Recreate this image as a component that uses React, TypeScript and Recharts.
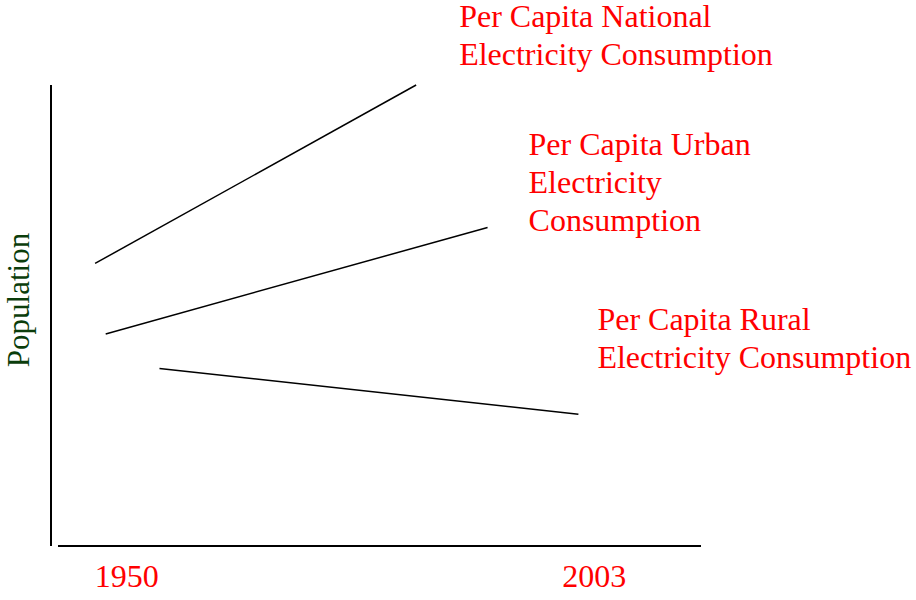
import React from "react";
import { LineChart, Line, XAxis, YAxis } from "recharts";

// schematic trend lines: [start, end] in years / relative level
const nationalYears = [1946.4, 1982.8];
const nationalLevels = [61.3, 100];
const urbanYears = [1947.6, 1990.9];
const urbanLevels = [46.0, 69.1];
const ruralYears = [1953.7, 2001.2];
const ruralLevels = [38.5, 28.6];

const yearTicks = [1950, 2003];

const nationalLabel = ["Per Capita National", "Electricity Consumption"];
const urbanLabel = ["Per Capita Urban", "Electricity", "Consumption"];
const ruralLabel = ["Per Capita Rural", "Electricity Consumption"];

const RED = "#ff0000";
const FONT = "'Liberation Serif', 'Times New Roman', serif";

const toData = (years: number[], levels: number[]) =>
  years.map((year, i) => ({ year, level: levels[i] }));

// label drawn next to the end point of each line
const endLabel = (lines: string[], dx: number, dy: number, lastIndex: number) =>
  (props: any) => {
    if (props.index !== lastIndex) return null;
    const x = props.x + dx;
    const y = props.y + dy;
    return (
      <text x={x} y={y} fill={RED} fontSize={32} fontFamily={FONT}>
        {lines.map((l, i) => (
          <tspan key={i} x={x} dy={i === 0 ? 0 : 38}>
            {l}
          </tspan>
        ))}
      </text>
    );
  };

const PopulationLabel = (props: any) => {
  const x = 29;
  const y = 300;
  return (
    <text
      x={x}
      y={y}
      transform={`rotate(-90, ${x}, ${y})`}
      textAnchor="middle"
      fill="#0b3d0b"
      fontSize={31}
      fontFamily={FONT}
    >
      Population
    </text>
  );
};

export default function App() {
  return (
    <div style={{ position: "absolute", left: 0, top: 0, background: "#fff" }}>
      <LineChart width={916} height={600} margin={{ top: 85, right: 215, bottom: 0, left: 0 }}>
        <XAxis
          type="number"
          dataKey="year"
          domain={[1941.4, 2015.1]}
          ticks={yearTicks}
          height={54}
          tickLine={false}
          tickMargin={12}
          axisLine={{ stroke: "#000", strokeWidth: 2, strokeDasharray: "0 7 650" }}
          tick={{ fill: RED, fontSize: 32, fontFamily: FONT }}
          allowDataOverflow
        />
        <YAxis
          type="number"
          dataKey="level"
          domain={[0, 100]}
          width={51}
          tick={false}
          tickLine={false}
          axisLine={{ stroke: "#000", strokeWidth: 2 }}
          label={<PopulationLabel />}
        />
        <Line
          data={toData(nationalYears, nationalLevels)}
          dataKey="level"
          stroke="#000"
          strokeWidth={1.5}
          dot={false}
          isAnimationActive={false}
          label={endLabel(nationalLabel, 43, -58, nationalYears.length - 1)}
        />
        <Line
          data={toData(urbanYears, urbanLevels)}
          dataKey="level"
          stroke="#000"
          strokeWidth={1.5}
          dot={false}
          isAnimationActive={false}
          label={endLabel(urbanLabel, 41, -72, urbanYears.length - 1)}
        />
        <Line
          data={toData(ruralYears, ruralLevels)}
          dataKey="level"
          stroke="#000"
          strokeWidth={1.5}
          dot={false}
          isAnimationActive={false}
          label={endLabel(ruralLabel, 19, -84, ruralYears.length - 1)}
        />
      </LineChart>
    </div>
  );
}
